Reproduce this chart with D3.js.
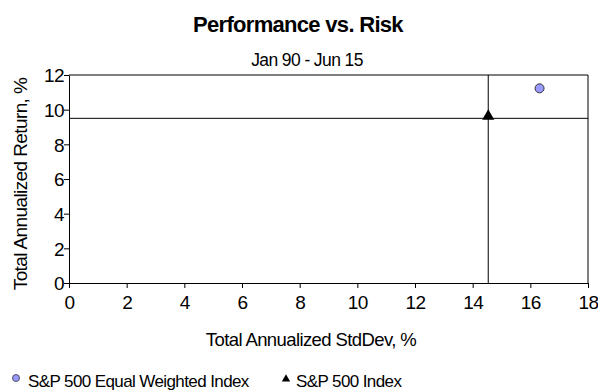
<!DOCTYPE html>
<html><head><meta charset="utf-8">
<script src="https://cdn.jsdelivr.net/npm/d3@7"></script>
<style>
body{margin:0;background:#fff;}
svg text{font-family:"Liberation Sans",Arial,sans-serif;fill:#000;}
</style></head>
<body><svg id="c" width="598" height="392"></svg>
<script>
const seriesNames = ["S&P 500 Equal Weighted Index", "S&P 500 Index"];
const stdDev = [16.32, 14.54];
const annReturn = [11.23, 9.50];
const xTicks = [0,2,4,6,8,10,12,14,16,18];
const yTicks = [0,2,4,6,8,10,12];
const title = "Performance vs. Risk";
const subtitle = "Jan 90 - Jun 15";
const xTitle = "Total Annualized StdDev, %";
const yTitle = "Total Annualized Return, %";

const svg = d3.select("#c");
const L = 69, R = 588, T = 75, B = 283;
const x = d3.scaleLinear().domain([0,18]).range([L,R]);
const y = d3.scaleLinear().domain([0,12]).range([B,T]);

svg.append("text").attr("x",298).attr("y",32).attr("text-anchor","middle")
  .style("font-size","22px").style("font-weight","bold").style("letter-spacing","-0.7px").text(title);
svg.append("text").attr("x",307).attr("y",66).attr("text-anchor","middle")
  .style("font-size","17.5px").style("letter-spacing","-0.6px").text(subtitle);

// frame top/right
svg.append("line").attr("x1",L).attr("x2",R).attr("y1",T).attr("y2",T).attr("stroke","#000");
svg.append("line").attr("x1",R).attr("x2",R).attr("y1",T).attr("y2",B).attr("stroke","#000");

const xa = svg.append("g").attr("transform",`translate(0,${B})`)
  .call(d3.axisBottom(x).tickValues(xTicks).tickSize(5).tickSizeOuter(0).tickFormat(d3.format("d")));
const ya = svg.append("g").attr("transform",`translate(${L},0)`)
  .call(d3.axisLeft(y).tickValues(yTicks).tickSize(5).tickSizeOuter(0).tickFormat(d3.format("d")));
[xa,ya].forEach(g=>{
  g.selectAll("path,line").attr("stroke","#000");
  g.selectAll("text").style("font-size","19px").style("font-family","Liberation Sans, Arial, sans-serif").style("letter-spacing","-0.6px");
});
xa.selectAll("text").attr("y",26).attr("dy",0);
ya.selectAll("text").attr("x",-5).attr("dy","0.36em");

// crosshair through the S&P 500 Index point
svg.append("line").attr("x1",x(stdDev[1])).attr("x2",x(stdDev[1])).attr("y1",T).attr("y2",B).attr("stroke","#000");
svg.append("line").attr("x1",L).attr("x2",R).attr("y1",y(annReturn[1])).attr("y2",y(annReturn[1])).attr("stroke","#000");

// axis titles
svg.append("text").attr("x",311).attr("y",346).attr("text-anchor","middle")
  .style("font-size","18.5px").style("letter-spacing","-0.6px").text(xTitle);
svg.append("text").attr("transform",`translate(27,184) rotate(-90)`).attr("text-anchor","middle")
  .style("font-size","19px").style("letter-spacing","-0.6px").text(yTitle);

// markers
svg.append("circle").attr("cx",x(stdDev[0])).attr("cy",y(annReturn[0])).attr("r",4.5)
  .attr("fill","#9999FF").attr("stroke","#333").attr("stroke-width",1);
const tri = d3.symbol().type(d3.symbolTriangle).size(64);
svg.append("path").attr("d",tri()).attr("transform",`translate(${x(stdDev[1])},${y(annReturn[1])-2})`).attr("fill","#000");

// legend
const lg = svg.append("g");
lg.append("circle").attr("cx",16).attr("cy",378).attr("r",3.5).attr("fill","#9999FF").attr("stroke","#333").attr("stroke-width",0.8);
lg.append("text").attr("x",28).attr("y",387).style("font-size","17px").style("letter-spacing","-0.6px").text(seriesNames[0]);
lg.append("path").attr("d",d3.symbol().type(d3.symbolTriangle).size(30)()).attr("transform","translate(286,379)").attr("fill","#000");
lg.append("text").attr("x",296).attr("y",387).style("font-size","17px").style("letter-spacing","-0.6px").text(seriesNames[1]);
</script></body></html>
